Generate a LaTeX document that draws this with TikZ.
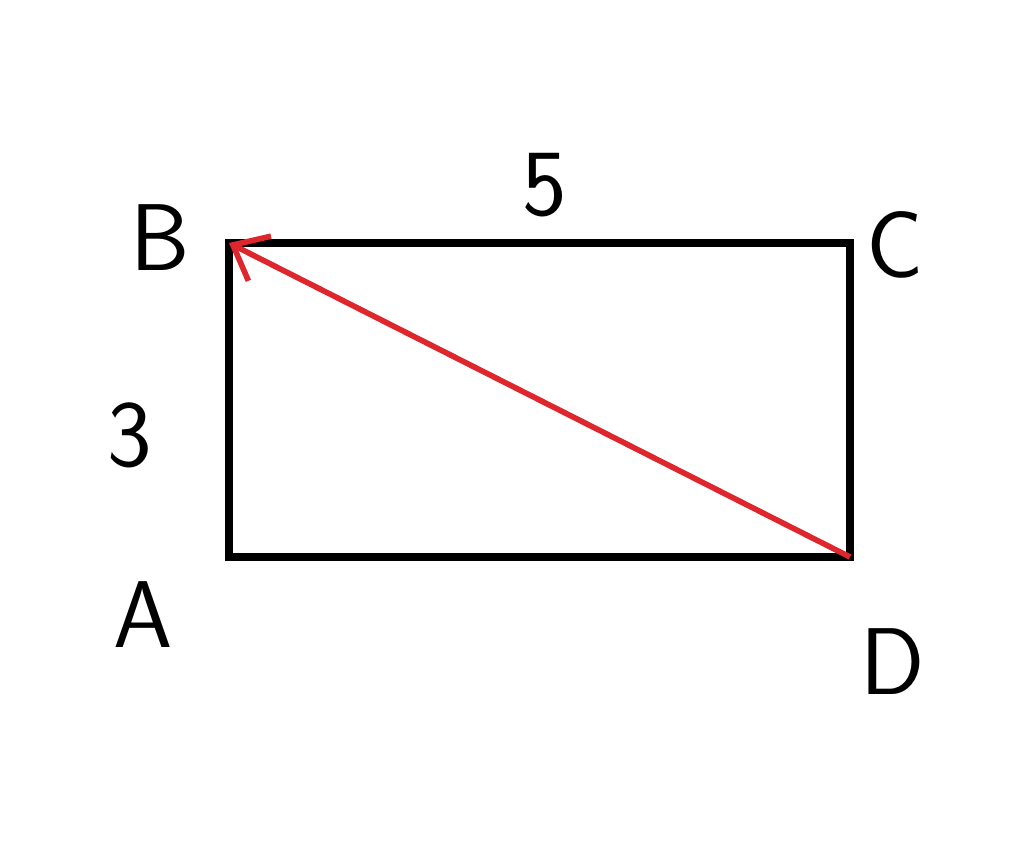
\documentclass[tikz,border=0pt]{standalone}
\usetikzlibrary{arrows.meta}
\definecolor{pen}{RGB}{222,38,45}
\tikzset{
  lab/.style={font=\sffamily\fontsize{27}{31}\selectfont, inner sep=0pt},
  side/.style={line width=2pt},
  diag/.style={pen, line width=1.6pt, -{Straight Barb[length=3mm,width=5mm]}}
}
\begin{document}
\begin{tikzpicture}
    \useasboundingbox (0, 0) rectangle (10.24, 8.51);
    \coordinate (A) at (2.29, 2.94);
    \coordinate (B) at (2.29, 6.08);
    \coordinate (C) at (8.50, 6.08);
    \coordinate (D) at (8.50, 2.94);

    \draw[side] (A) -- (B) -- (C) -- (D) -- cycle;
    \draw[diag] (D) -- (B);

    \node[lab] (labB) at (1.60, 6.13) {B};
    \node[lab] (labC) at (8.95, 6.06) {C};
    \node[lab] (labA) at (1.43, 2.36) {A};
    \node[lab] (labD) at (8.93, 1.89) {D};
    \node[lab] (top) at (5.45, 6.66) {5};
    \node[lab] (left) at (1.30, 4.16) {3};
\end{tikzpicture}
\end{document}
